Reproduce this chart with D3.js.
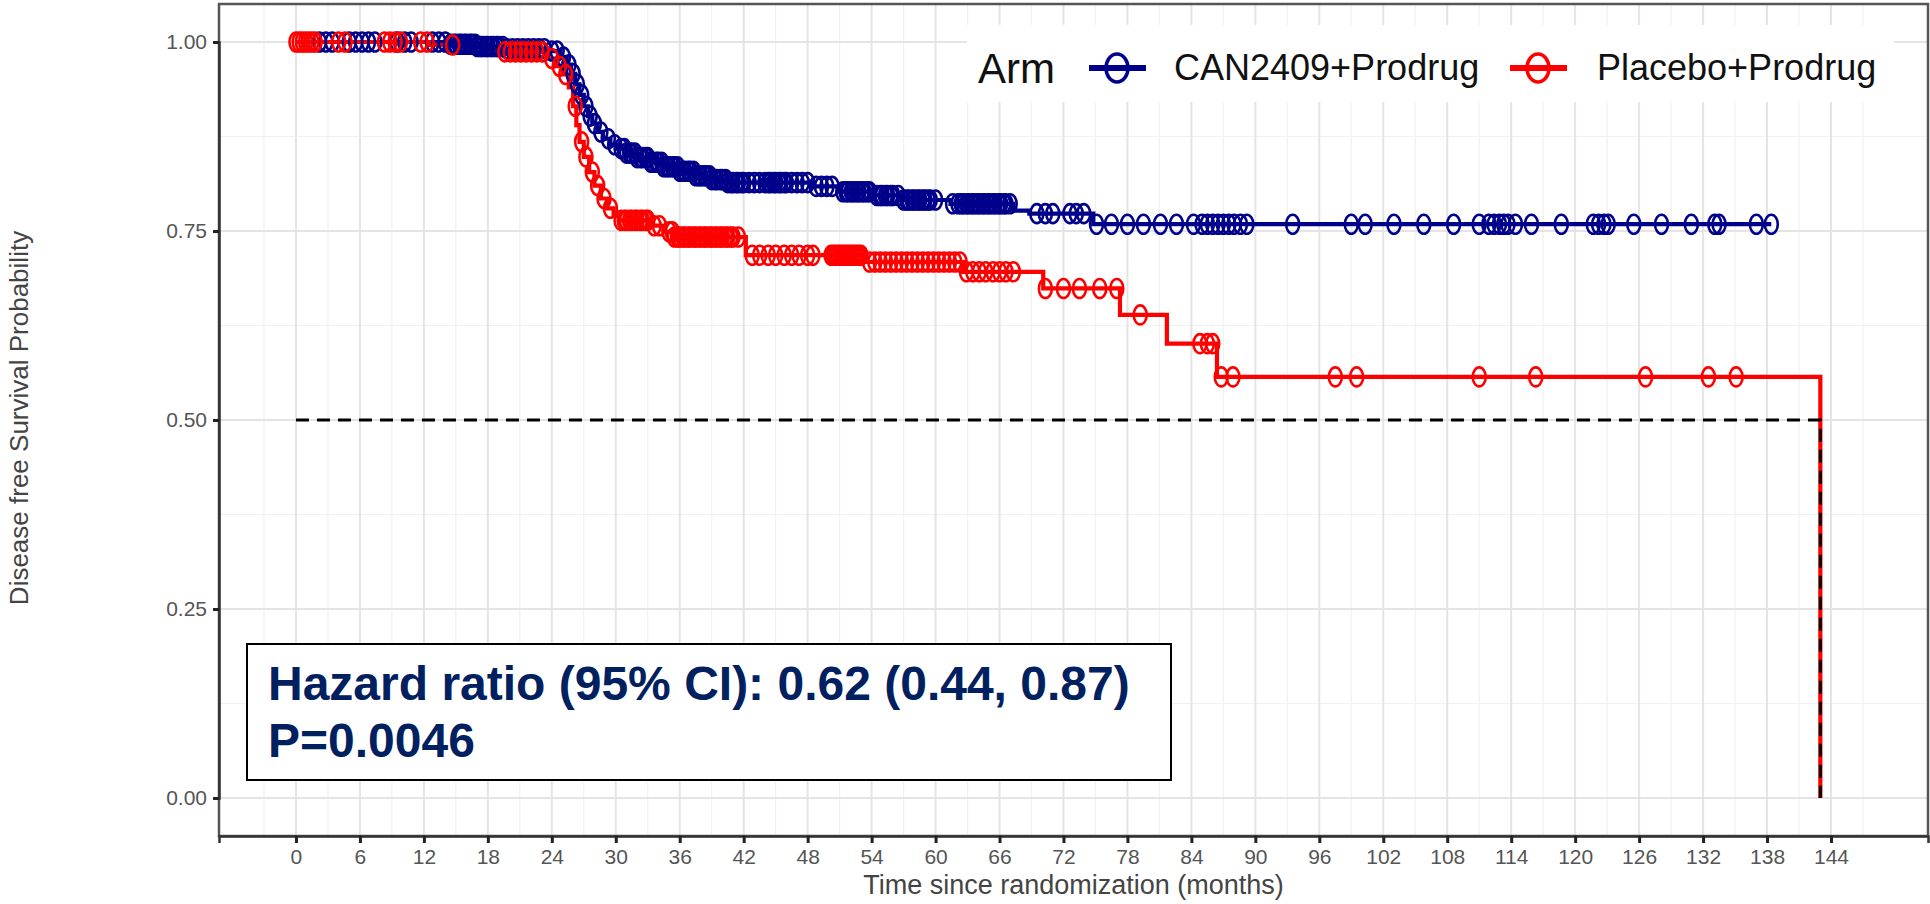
<!DOCTYPE html>
<html>
<head>
<meta charset="utf-8">
<script src="https://cdn.jsdelivr.net/npm/d3@7"></script>
<style>
  html, body { margin: 0; padding: 0; background: #ffffff; }
  svg { display: block; }
  text { font-family: "Liberation Sans", Arial, Helvetica, sans-serif; }
</style>
</head>
<body>
<svg id="chart" width="1930" height="904"></svg>
<script>
// ---------------- DATA ----------------
const xTicks = [0,6,12,18,24,30,36,42,48,54,60,66,72,78,84,90,96,102,108,114,120,126,132,138,144];
const yTicks = [0, 0.25, 0.5, 0.75, 1.0];
const yTickLabels = ["0.00", "0.25", "0.50", "0.75", "1.00"];

const armNames = ["CAN2409+Prodrug", "Placebo+Prodrug"];
const armColors = ["#00008B", "#FF0000"];

// Kaplan-Meier steps: time (months) and survival after the step
const blueTimes = [0, 14.3, 17, 19.5, 23.5, 24.8, 25.4, 25.8, 26.2, 26.6, 27.0, 27.4, 27.8, 28.3, 28.8, 29.5, 30.2, 31.0, 32.0, 33.2, 34.5, 36.0, 37.5, 39.0, 40.5, 48.5, 51.0, 54.2, 56.7, 61.4, 67.3, 68.8, 74.8, 138.4];
const blueSurv  = [1.0, 0.997, 0.994, 0.991, 0.988, 0.980, 0.970, 0.958, 0.944, 0.930, 0.915, 0.902, 0.892, 0.881, 0.872, 0.864, 0.859, 0.853, 0.847, 0.841, 0.835, 0.829, 0.823, 0.818, 0.814, 0.809, 0.802, 0.797, 0.791, 0.786, 0.777, 0.773, 0.759, 0.759];

const redTimes = [0, 12.5, 17.5, 19.2, 23.6, 24.3, 25.0, 25.6, 26.0, 26.3, 26.6, 27.0, 27.5, 28.0, 28.6, 29.2, 29.8, 30.3, 33.2, 34.5, 35.5, 42.2, 53.5, 62.6, 70.1, 77.3, 81.7, 86.4, 143.0];
const redSurv  = [1.0, 0.996, 0.991, 0.987, 0.978, 0.968, 0.957, 0.940, 0.915, 0.890, 0.868, 0.848, 0.828, 0.810, 0.793, 0.780, 0.770, 0.764, 0.757, 0.749, 0.742, 0.718, 0.709, 0.696, 0.674, 0.639, 0.601, 0.557, 0.0];

// censoring times (months)
const blueCensor = [2.2, 2.8, 3.4, 5.0, 5.6, 6.2, 6.8, 7.4, 9.5, 10.2, 10.8, 12.8, 13.4, 14.0, 14.5, 14.8, 15.0, 15.3, 15.5, 15.8, 16.0, 16.3, 16.5, 16.8, 17.0, 17.3, 17.5, 17.8, 18.0, 18.3, 18.5, 18.8, 19.0, 19.4, 19.8, 20.3, 20.8, 21.3, 21.8, 22.3, 22.8, 23.3, 24.0, 24.5, 25.1, 25.6, 26.0, 26.4, 26.8, 27.2, 27.6, 28.0, 28.6, 29.3, 29.9, 30.5, 30.8, 31.0, 31.3, 31.5, 31.8, 32.0, 32.3, 32.5, 32.8, 33.0, 33.3, 33.5, 33.8, 34.0, 34.3, 34.5, 34.8, 35.0, 35.3, 35.5, 35.8, 36.0, 36.3, 36.5, 36.8, 37.0, 37.3, 37.5, 37.8, 38.0, 38.3, 38.5, 38.8, 39.0, 39.3, 39.5, 39.8, 40.0, 40.3, 40.5, 40.8, 41.0, 41.3, 41.5, 41.8, 42.0, 42.5, 43.0, 43.5, 44.0, 44.3, 44.5, 44.8, 45.0, 45.3, 45.5, 45.8, 46.0, 46.5, 47.0, 47.5, 48.0, 48.8, 49.3, 49.8, 50.3, 51.3, 51.6, 51.8, 52.1, 52.3, 52.6, 52.8, 53.1, 53.3, 53.6, 53.8, 54.5, 54.8, 55.0, 55.3, 55.5, 55.8, 56.0, 56.5, 57.0, 57.3, 57.5, 57.8, 58.0, 58.3, 58.5, 58.8, 59.0, 59.3, 59.5, 60.0, 61.6, 62.1, 62.4, 62.6, 62.9, 63.1, 63.4, 63.6, 63.9, 64.1, 64.4, 64.6, 64.9, 65.1, 65.4, 65.6, 65.9, 66.1, 66.4, 66.6, 67.0, 69.5, 70.3, 71.0, 72.6, 73.2, 73.9, 75.1, 76.5, 78.0, 79.5, 81.1, 82.6, 84.2, 85.0, 85.5, 86.0, 86.5, 87.0, 87.5, 88.0, 88.6, 89.2, 93.5, 99.0, 100.3, 103.0, 105.8, 108.6, 111.0, 111.9, 112.4, 112.9, 113.3, 113.7, 114.4, 115.9, 118.7, 121.7, 122.2, 122.7, 123.1, 125.5, 128.1, 130.9, 133.1, 133.5, 137.0, 138.4];
const redCensor = [0.0, 0.3, 0.6, 0.9, 1.2, 1.5, 1.8, 4.0, 4.6, 8.3, 8.8, 9.3, 9.8, 11.7, 12.3, 14.7, 19.6, 20.1, 20.6, 21.1, 21.6, 22.1, 22.6, 23.1, 24.0, 24.7, 25.3, 26.2, 26.8, 27.2, 27.8, 28.3, 28.9, 29.5, 30.5, 30.8, 31.0, 31.3, 31.5, 31.8, 32.0, 32.3, 32.5, 32.8, 33.0, 33.6, 34.1, 35.0, 35.3, 35.5, 35.8, 36.0, 36.3, 36.5, 36.8, 37.0, 37.3, 37.5, 37.8, 38.0, 38.3, 38.5, 38.8, 39.0, 39.3, 39.5, 39.8, 40.0, 40.3, 40.5, 40.8, 41.0, 41.5, 42.8, 43.5, 44.3, 45.0, 45.8, 46.5, 47.2, 48.0, 48.5, 50.2, 50.4, 50.6, 50.8, 51.0, 51.2, 51.4, 51.6, 51.8, 52.0, 52.2, 52.4, 52.6, 52.8, 53.0, 53.8, 54.3, 54.8, 55.3, 55.8, 56.3, 56.8, 57.3, 57.8, 58.3, 58.8, 59.3, 59.8, 60.3, 60.8, 61.3, 61.8, 62.3, 62.9, 63.5, 64.1, 64.7, 65.4, 66.0, 66.6, 67.3, 70.3, 72.0, 73.5, 75.4, 77.0, 79.2, 84.8, 85.5, 86.0, 86.8, 87.9, 97.5, 99.5, 111.0, 116.3, 126.6, 132.5, 135.1];

const medianTime = 143.0;
const medianSurv = 0.5;

const xTitle = "Time since randomization (months)";
const yTitle = "Disease free Survival Probability";
const legendTitle = "Arm";
const annotLines = ["Hazard ratio (95% CI): 0.62 (0.44, 0.87)", "P=0.0046"];

// ---------------- LAYOUT ----------------
const svg = d3.select("#chart");
const panel = { left: 219, right: 1928, top: 4, bottom: 836 };

const x = d3.scaleLinear().domain([-7.22, 153.1]).range([panel.left, panel.right]);
const y = d3.scaleLinear().domain([0, 1]).range([798, 42]);

svg.append("rect").attr("width", 1930).attr("height", 904).attr("fill", "#ffffff");

// gridlines
const g = svg.append("g");
const minorX = d3.range(-6, 151, 3).filter(v => v % 6 !== 0);
const minorY = [0.125, 0.375, 0.625, 0.875];
g.selectAll(".mgx").data(minorX).enter().append("line")
  .attr("x1", d => x(d)).attr("x2", d => x(d)).attr("y1", panel.top).attr("y2", panel.bottom)
  .attr("stroke", "#f1f1f1").attr("stroke-width", 1.2);
g.selectAll(".mgy").data(minorY).enter().append("line")
  .attr("y1", d => y(d)).attr("y2", d => y(d)).attr("x1", panel.left).attr("x2", panel.right)
  .attr("stroke", "#f1f1f1").attr("stroke-width", 1.2);
g.selectAll(".Mgx").data(xTicks).enter().append("line")
  .attr("x1", d => x(d)).attr("x2", d => x(d)).attr("y1", panel.top).attr("y2", panel.bottom)
  .attr("stroke", "#e4e4e4").attr("stroke-width", 2);
g.selectAll(".Mgy").data(yTicks).enter().append("line")
  .attr("y1", d => y(d)).attr("y2", d => y(d)).attr("x1", panel.left).attr("x2", panel.right)
  .attr("stroke", "#e4e4e4").attr("stroke-width", 2);

// curves
const line = d3.line().x(d => x(d[0])).y(d => y(d[1])).curve(d3.curveStepAfter);
const blueData = blueTimes.map((t, i) => [t, blueSurv[i]]);
const redData = redTimes.map((t, i) => [t, redSurv[i]]);

function survAt(times, surv, t) {
  let s = surv[0];
  for (let i = 0; i < times.length; i++) { if (times[i] <= t) s = surv[i]; }
  return s;
}

svg.append("path").datum(blueData).attr("d", line)
  .attr("fill", "none").attr("stroke", armColors[0]).attr("stroke-width", 4.2);
svg.append("path").datum(redData).attr("d", line)
  .attr("fill", "none").attr("stroke", armColors[1]).attr("stroke-width", 4.2);

svg.append("g").selectAll("ellipse").data(blueCensor).enter().append("ellipse")
  .attr("cx", d => x(d)).attr("cy", d => y(survAt(blueTimes, blueSurv, d)))
  .attr("rx", 6.5).attr("ry", 9.5)
  .attr("fill", "none").attr("stroke", armColors[0]).attr("stroke-width", 2.6);
svg.append("g").selectAll("ellipse").data(redCensor).enter().append("ellipse")
  .attr("cx", d => x(d)).attr("cy", d => y(survAt(redTimes, redSurv, d)))
  .attr("rx", 6.5).attr("ry", 9.5)
  .attr("fill", "none").attr("stroke", armColors[1]).attr("stroke-width", 2.6);

// median line
svg.append("path")
  .datum([[0, medianSurv], [medianTime, medianSurv], [medianTime, 0]])
  .attr("d", d3.line().x(d => x(d[0])).y(d => y(d[1])))
  .attr("fill", "none").attr("stroke", "#000").attr("stroke-width", 3)
  .attr("stroke-dasharray", "13,8");

// panel border
svg.append("rect")
  .attr("x", panel.left).attr("y", panel.top)
  .attr("width", panel.right - panel.left).attr("height", panel.bottom - panel.top)
  .attr("fill", "none").attr("stroke", "#555").attr("stroke-width", 2.5);

// axes
const xAxis = d3.axisBottom(x).tickValues(xTicks).tickSize(7).tickPadding(6).tickFormat(d3.format("d"));
const gx = svg.append("g").attr("transform", `translate(0,${panel.bottom})`).call(xAxis);
gx.select(".domain").attr("stroke", "#333").attr("stroke-width", 2.5);
gx.selectAll(".tick line").attr("stroke", "#222").attr("stroke-width", 3);
gx.selectAll(".tick text").attr("font-size", 21).attr("fill", "#555")
  .attr("font-family", "Liberation Sans, Arial, sans-serif");

const yAxis = d3.axisLeft(y).tickValues(yTicks).tickSize(6).tickPadding(6).tickFormat((d, i) => yTickLabels[i]);
const gy = svg.append("g").attr("transform", `translate(${panel.left},0)`).call(yAxis);
gy.select(".domain").attr("stroke", "#333").attr("stroke-width", 2.5);
gy.selectAll(".tick line").attr("stroke", "#222").attr("stroke-width", 3);
gy.selectAll(".tick text").attr("font-size", 21).attr("fill", "#555")
  .attr("font-family", "Liberation Sans, Arial, sans-serif");

// axis titles
svg.append("text").attr("x", (panel.left + panel.right) / 2).attr("y", 894)
  .attr("text-anchor", "middle").attr("font-size", 27).attr("fill", "#444").text(xTitle);
svg.append("text").attr("transform", "translate(28,418) rotate(-90)")
  .attr("text-anchor", "middle").attr("font-size", 26).attr("fill", "#444").text(yTitle);

// legend
const lg = svg.append("g");
lg.append("rect").attr("x", 967).attr("y", 25).attr("width", 927).attr("height", 77).attr("fill", "#ffffff");
lg.append("text").attr("x", 978).attr("y", 83).attr("font-size", 42).attr("fill", "#111").text(legendTitle);
const keyX = [1089, 1510];
const labX = [1174, 1597];
armNames.forEach((nm, i) => {
  lg.append("line").attr("x1", keyX[i]).attr("x2", keyX[i] + 57).attr("y1", 68).attr("y2", 68)
    .attr("stroke", armColors[i]).attr("stroke-width", 6);
  lg.append("ellipse").attr("cx", keyX[i] + 28).attr("cy", 68).attr("rx", 11).attr("ry", 14)
    .attr("fill", "none").attr("stroke", armColors[i]).attr("stroke-width", 3.5);
  lg.append("text").attr("x", labX[i]).attr("y", 80).attr("font-size", 36).attr("fill", "#111").text(nm);
});

// annotation box
const ag = svg.append("g");
ag.append("rect").attr("x", 247).attr("y", 644).attr("width", 924).attr("height", 136)
  .attr("fill", "#ffffff").attr("stroke", "#000").attr("stroke-width", 2);
ag.append("text").attr("x", 268).attr("y", 700).attr("font-size", 48).attr("font-weight", "bold")
  .attr("fill", "#002060").text(annotLines[0]);
ag.append("text").attr("x", 268).attr("y", 757).attr("font-size", 48).attr("font-weight", "bold")
  .attr("fill", "#002060").text(annotLines[1]);
</script>
</body>
</html>
